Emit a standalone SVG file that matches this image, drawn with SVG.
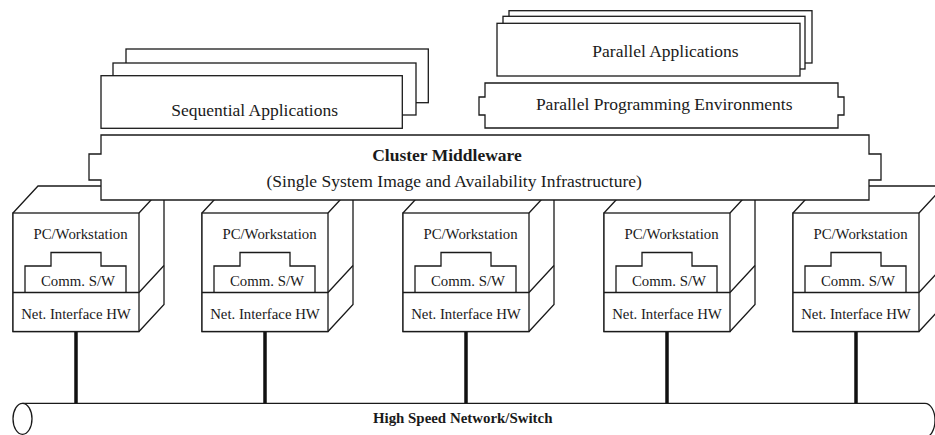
<svg xmlns="http://www.w3.org/2000/svg" width="935" height="435" viewBox="0 0 935 435">
<defs>
<style>
.b{fill:#fff;stroke:#1a1a1a;stroke-width:1.3}
.l{fill:none;stroke:#1a1a1a;stroke-width:1.3}
.t{font-family:"Liberation Serif","Times New Roman",serif;fill:#1a1a1a;text-anchor:middle}
.big{font-size:17.5px}
.sm{font-size:14.8px}
.bold{font-weight:bold}
.net{stroke:#111;stroke-width:3.5}
</style>
<g id="cube">
<path class="b" d="M0,213 L25,186 L151,186 L151,304.5 L126,331.5 L0,331.5 Z"/>
<rect class="b" x="0" y="213" width="126" height="118.5"/>
<path class="l" d="M126,213 L151,186 M126,292.5 L151,265.5 M0,292.5 L126,292.5"/>
<path class="l" d="M12,292.5 L12,266 L38,266 L38,252.5 L88,252.5 L88,266 L113,266 L113,292.5"/>
<text class="t sm" x="67.5" y="238.5">PC/Workstation</text>
<text class="t sm" x="65" y="285.5">Comm. S/W</text>
<text class="t sm" x="63" y="318.5">Net. Interface HW</text>
</g>
</defs>

<g id="connectors">
<line class="net" x1="76" y1="331" x2="76" y2="403.5"/>
<line class="net" x1="265" y1="331" x2="265" y2="403.5"/>
<line class="net" x1="466" y1="331" x2="466" y2="403.5"/>
<line class="net" x1="667" y1="331" x2="667" y2="403.5"/>
<line class="net" x1="856" y1="331" x2="856" y2="403.5"/>
</g>

<g id="network">
<path class="l" d="M22.5,403.3 L925,403.3 A10,17 0 0 1 925,437.3"/>
<ellipse class="b" cx="22.5" cy="418.8" rx="9.5" ry="15.5"/>
<text class="t bold" x="462.7" y="422.7" style="font-size:14.9px">High Speed Network/Switch</text>
</g>

<g id="node1"><use href="#cube" x="13"/></g>
<g id="node2"><use href="#cube" x="202"/></g>
<g id="node3"><use href="#cube" x="403"/></g>
<g id="node4"><use href="#cube" x="604"/></g>
<g id="node5"><use href="#cube" x="793"/></g>

<g id="middleware">
<path class="b" d="M101,135 L869,135 L869,154 L881,154 L881,180 L869,180 L869,200 L101,200 L101,180 L89,180 L89,154 L101,154 Z"/>
<text class="t big bold" x="447" y="161">Cluster Middleware</text>
<text class="t big" x="454.2" y="187">(Single System Image and Availability Infrastructure)</text>
</g>

<g id="sequential">
<rect class="b" x="126" y="49" width="302.3" height="53.7"/>
<rect class="b" x="113" y="63" width="303" height="52"/>
<rect class="b" x="101" y="75.7" width="301.3" height="52.6"/>
<text class="t big" x="254.7" y="116">Sequential Applications</text>
</g>

<g id="parallel-apps">
<rect class="b" x="509" y="10.7" width="303" height="52.3"/>
<rect class="b" x="503" y="16.3" width="302" height="52.7"/>
<rect class="b" x="497" y="23.3" width="303" height="52.7"/>
<text class="t big" x="665.5" y="57">Parallel Applications</text>
</g>

<g id="parallel-env">
<path class="b" d="M485,83 L838,83 L838,97 L844,97 L844,115 L838,115 L838,128 L485,128 L485,115 L479,115 L479,97 L485,97 Z"/>
<text class="t big" x="664.2" y="110">Parallel Programming Environments</text>
</g>
</svg>
